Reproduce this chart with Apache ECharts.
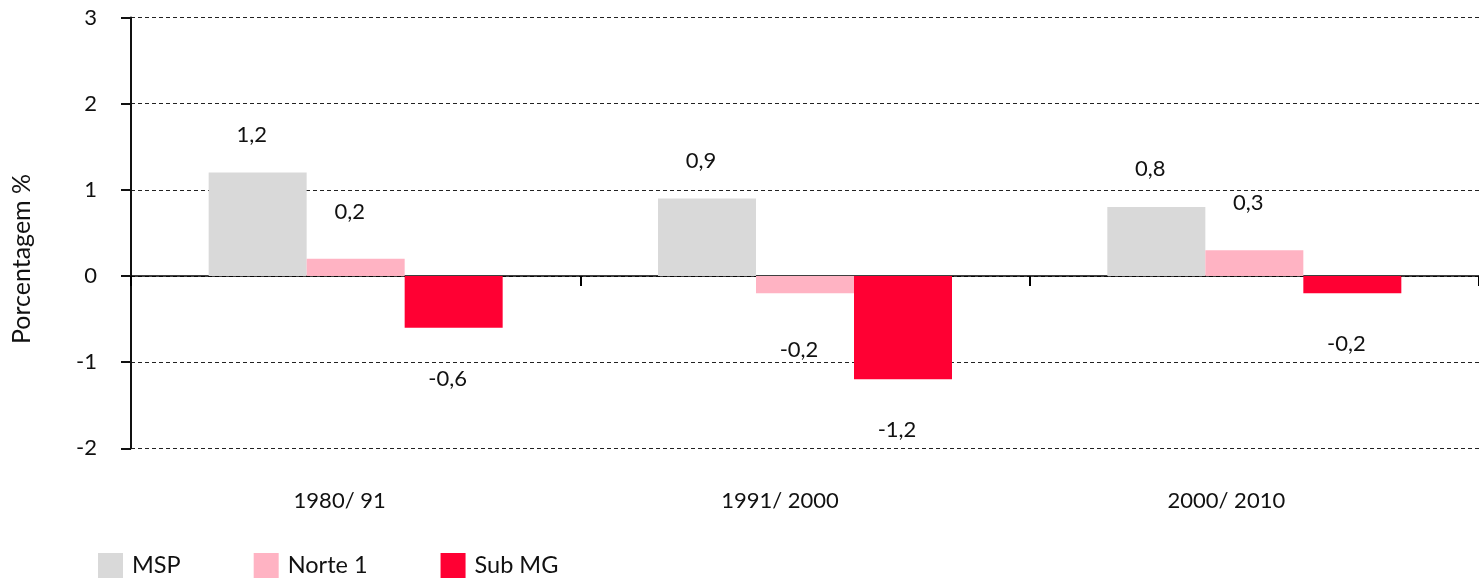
<!DOCTYPE html>
<html>
<head>
<meta charset="utf-8">
<script src="https://cdn.jsdelivr.net/npm/echarts@6/dist/echarts.min.js"></script>
<style>
  html, body { margin: 0; padding: 0; background: #fff; }
  #chart { width: 1479px; height: 579px; }
</style>
</head>
<body>
<div id="chart"></div>
<script>
// Periods and annual growth rates (%) per region
const periods = ['1980/ 91', '1991/ 2000', '2000/ 2010'];
const msp = [1.2, 0.9, 0.8];
const norte1 = [0.2, -0.2, 0.3];
const subMG = [-0.6, -1.2, -0.2];
const yTicks = [-2, -1, 0, 1, 2, 3];

// period labels sit a little left of their category centre
const periodLabelPadRight = [32, 50, 56];

const FONT = 'Lato';
const TEXT = '#111111';

function fmt(v) {
  return v.toFixed(1).replace('.', ',');
}

// label sits above positive bars, below negative ones
function items(values, upDist, downDist) {
  return values.map(v => ({
    value: v,
    label: {
      position: v >= 0 ? 'top' : 'bottom',
      distance: v >= 0 ? upDist : downDist
    }
  }));
}

function barSeries(name, values, color, upDist, downDist) {
  return {
    name: name,
    type: 'bar',
    xAxisIndex: 0,
    barWidth: 98,
    barGap: '0%',
    itemStyle: { color: color },
    label: {
      show: true,
      offset: [-6, 0],
      color: TEXT,
      fontFamily: FONT,
      fontSize: 22,
      formatter: p => fmt(p.value)
    },
    data: items(values, upDist, downDist)
  };
}

const chart = echarts.init(document.getElementById('chart'));
chart.setOption({
  animation: false,
  backgroundColor: '#ffffff',
  textStyle: { fontFamily: FONT },
  grid: { left: 131, top: 17.5, bottom: 130.7, right: -11, containLabel: false },
  legend: {
    left: 98,
    top: 553,
    padding: 0,
    itemWidth: 25,
    itemHeight: 25,
    itemGap: 73,
    icon: 'rect',
    textStyle: { fontFamily: FONT, fontSize: 23.5, color: TEXT, padding: [0, 0, 0, 4] },
    data: ['MSP', 'Norte 1', 'Sub MG']
  },
  graphic: [{
    type: 'text',
    x: 22,
    y: 259,
    rotation: Math.PI / 2,
    style: {
      text: 'Porcentagem %',
      fill: TEXT,
      font: '25px ' + FONT,
      textAlign: 'center',
      textVerticalAlign: 'middle'
    }
  }],
  xAxis: [{
    type: 'category',
    data: periods,
    axisLine: { onZero: true, lineStyle: { color: '#000', width: 1.5 } },
    axisTick: { show: true, length: 10, lineStyle: { color: '#000', width: 2 } },
    axisLabel: { show: false },
    splitLine: { show: false }
  }, {
    type: 'category',
    data: periods.map((p, i) => ({
      value: p,
      textStyle: { padding: [0, periodLabelPadRight[i], 0, 0] }
    })),
    position: 'bottom',
    axisLine: { show: false, onZero: false },
    axisTick: { show: false },
    axisLabel: { margin: 42, color: TEXT, fontFamily: FONT, fontSize: 22 },
    splitLine: { show: false }
  }],
  yAxis: {
    type: 'value',
    min: yTicks[0],
    max: yTicks[yTicks.length - 1],
    interval: 1,
    axisLine: { show: true, lineStyle: { color: '#111', width: 2 } },
    axisTick: { show: true, inside: false, length: 10, lineStyle: { color: '#111', width: 2 } },
    axisLabel: { margin: 34, color: TEXT, fontFamily: FONT, fontSize: 22, formatter: v => String(v) },
    splitLine: { show: true, lineStyle: { color: '#222', width: 1.2, type: [4, 3] } }
  },
  series: [
    barSeries('MSP', msp, '#d9d9d9', 27, 29),
    barSeries('Norte 1', norte1, '#ffb3c3', 36, 46),
    barSeries('Sub MG', subMG, '#ff0033', 40, 40)
  ]
});
</script>
</body>
</html>
